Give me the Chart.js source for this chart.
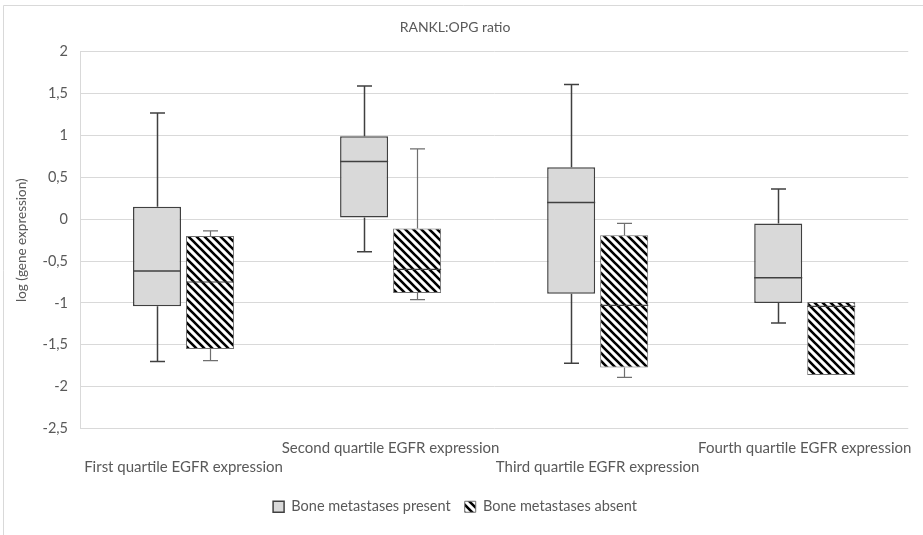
<!DOCTYPE html>
<html>
<head>
<meta charset="utf-8">
<title>RANKL:OPG ratio</title>
<script src="https://cdn.jsdelivr.net/npm/chart.js@4.4.1/dist/chart.umd.min.js"></script>
<style>
  html, body { margin: 0; padding: 0; background: #ffffff; }
  #wrap { width: 923px; height: 535px; position: relative; }
</style>
</head>
<body>
<div id="wrap"><canvas id="chart" width="923" height="535"></canvas></div>
<script>
// Quartile groups of EGFR expression
const categories = [
  'First quartile EGFR expression',
  'Second quartile EGFR expression',
  'Third quartile EGFR expression',
  'Fourth quartile EGFR expression'
];
const seriesNames = ['Bone metastases present', 'Bone metastases absent'];

// Five-number summaries of log RANKL:OPG, one entry per quartile group
const presentMin    = [-1.70, -0.39, -1.72, -1.24];
const presentQ1     = [-1.04,  0.02, -0.89, -1.00];
const presentMedian = [-0.62,  0.69,  0.20, -0.70];
const presentQ3     = [ 0.15,  0.99,  0.62, -0.05];
const presentMax    = [ 1.27,  1.59,  1.61,  0.36];

const absentMin     = [-1.69, -0.96, -1.89, -1.86];
const absentQ1      = [-1.55, -0.88, -1.77, -1.86];
const absentMedian  = [-0.75, -0.60, -1.03, -1.04];
const absentQ3      = [-0.20, -0.11, -0.19, -0.99];
const absentMax     = [-0.14,  0.84, -0.05, -0.99];

const yTicks = [2, 1.5, 1, 0.5, 0, -0.5, -1, -1.5, -2, -2.5];

const FONT = 'Lato, "Open Sans", sans-serif';
const TEXT = '#595959';
const GRID = '#d9d9d9';

// Diagonal hatch fill for the "absent" boxes
function makeHatch() {
  const size = 8;
  const c = document.createElement('canvas');
  c.width = size; c.height = size;
  const g = c.getContext('2d');
  g.fillStyle = '#ffffff';
  g.fillRect(0, 0, size, size);
  g.strokeStyle = '#000000';
  g.lineWidth = 2.6;
  g.beginPath();
  for (let k = -1; k <= 1; k++) {
    g.moveTo(k * size - 1, -1);
    g.lineTo(k * size + size + 1, size + 1);
  }
  g.stroke();
  return g.createPattern(c, 'repeat');
}
const hatch = makeHatch();

const boxStats = [
  { min: presentMin, q1: presentQ1, med: presentMedian, q3: presentQ3, max: presentMax,
    whisker: '#404040', whiskerWidth: 1.5, median: '#404040', medianWidth: 1.5 },
  { min: absentMin, q1: absentQ1, med: absentMedian, q3: absentQ3, max: absentMax,
    whisker: '#6f6f6f', whiskerWidth: 1.2, median: '#404040', medianWidth: 1.2 }
];

// Whiskers, caps and median lines, placed with the chart's own scales
const whiskerPlugin = {
  id: 'whiskers',
  afterDatasetsDraw(chart) {
    const y = chart.scales.y;
    const ctx = chart.ctx;
    chart.data.datasets.forEach((ds, di) => {
      const s = boxStats[di];
      const meta = chart.getDatasetMeta(di);
      meta.data.forEach((bar, i) => {
        const x = Math.round(bar.x) + 0.5;
        const hw = bar.width / 2;
        const cap = 7.5;
        const yMin = y.getPixelForValue(s.min[i]);
        const yQ1 = y.getPixelForValue(s.q1[i]);
        const yMed = y.getPixelForValue(s.med[i]);
        const yQ3 = y.getPixelForValue(s.q3[i]);
        const yMax = y.getPixelForValue(s.max[i]);
        ctx.save();
        ctx.strokeStyle = s.whisker;
        ctx.lineWidth = s.whiskerWidth;
        ctx.beginPath();
        if (s.max[i] > s.q3[i]) {
          ctx.moveTo(x, yQ3); ctx.lineTo(x, yMax);
          ctx.moveTo(x - cap, yMax); ctx.lineTo(x + cap, yMax);
        }
        if (s.min[i] < s.q1[i]) {
          ctx.moveTo(x, yQ1); ctx.lineTo(x, yMin);
          ctx.moveTo(x - cap, yMin); ctx.lineTo(x + cap, yMin);
        }
        ctx.stroke();
        ctx.strokeStyle = s.median;
        ctx.lineWidth = s.medianWidth;
        ctx.beginPath();
        ctx.moveTo(bar.x - hw, yMed); ctx.lineTo(bar.x + hw, yMed);
        ctx.stroke();
        ctx.restore();
      });
    });
  }
};

// White background and the thin outer frame
const framePlugin = {
  id: 'frame',
  beforeDraw(chart) {
    const ctx = chart.ctx;
    ctx.save();
    ctx.fillStyle = '#ffffff';
    ctx.fillRect(0, 0, chart.width, chart.height);
    ctx.strokeStyle = GRID;
    ctx.lineWidth = 1;
    ctx.beginPath();
    ctx.moveTo(3.5, chart.height);
    ctx.lineTo(3.5, 5.5);
    ctx.lineTo(chart.width, 5.5);
    ctx.stroke();
    ctx.restore();
  }
};

new Chart(document.getElementById('chart'), {
  type: 'bar',
  data: {
    labels: categories,
    datasets: [
      {
        label: seriesNames[0],
        data: presentQ1.map((v, i) => [v, presentQ3[i]]),
        backgroundColor: '#d9d9d9',
        borderColor: '#404040',
        borderWidth: 1.5,
        borderSkipped: false,
        categoryPercentage: 0.512,
        barPercentage: 0.906
      },
      {
        label: seriesNames[1],
        data: absentQ1.map((v, i) => [v, absentQ3[i]]),
        backgroundColor: hatch,
        borderColor: '#6f6f6f',
        borderWidth: 1,
        borderSkipped: false,
        categoryPercentage: 0.512,
        barPercentage: 0.906
      }
    ]
  },
  options: {
    responsive: false,
    animation: false,
    layout: { padding: { left: 0, right: 13, top: 0, bottom: 11 } },
    plugins: {
      tooltip: { enabled: false },
      title: {
        display: true,
        text: 'RANKL:OPG ratio',
        color: TEXT,
        font: { family: FONT, size: 14, weight: 'normal', lineHeight: 1.2 },
        padding: { top: 19, bottom: 16 }
      },
      legend: {
        position: 'bottom',
        labels: {
          color: TEXT,
          font: { family: FONT, size: 14.5 },
          boxWidth: 11,
          boxHeight: 11,
          padding: 14
        }
      }
    },
    scales: {
      x: {
        grid: { display: false, drawTicks: false },
        border: { display: false },
        ticks: {
          color: TEXT,
          font: { family: FONT, size: 15, lineHeight: '19px' },
          autoSkip: false,
          maxRotation: 0,
          minRotation: 0,
          padding: 10,
          callback: (v, i) => (i % 2 === 0 ? ['', categories[i]] : categories[i])
        },
        afterFit(scale) { scale.height = 57; }
      },
      y: {
        min: -2.5,
        max: 2,
        grid: { color: GRID, lineWidth: 1, drawTicks: false },
        border: { display: true, color: GRID },
        afterBuildTicks(scale) { scale.ticks = yTicks.map(v => ({ value: v })); },
        ticks: {
          color: TEXT,
          font: { family: FONT, size: 14.5 },
          padding: 12,
          callback: v => String(v).replace('.', ',')
        },
        title: {
          display: true,
          text: 'log (gene expression)',
          color: TEXT,
          font: { family: FONT, size: 13.5 },
          padding: { top: 14, bottom: 0 }
        },
        afterFit(scale) { scale.width = 80; }
      }
    }
  },
  plugins: [framePlugin, whiskerPlugin]
});
</script>
</body>
</html>
